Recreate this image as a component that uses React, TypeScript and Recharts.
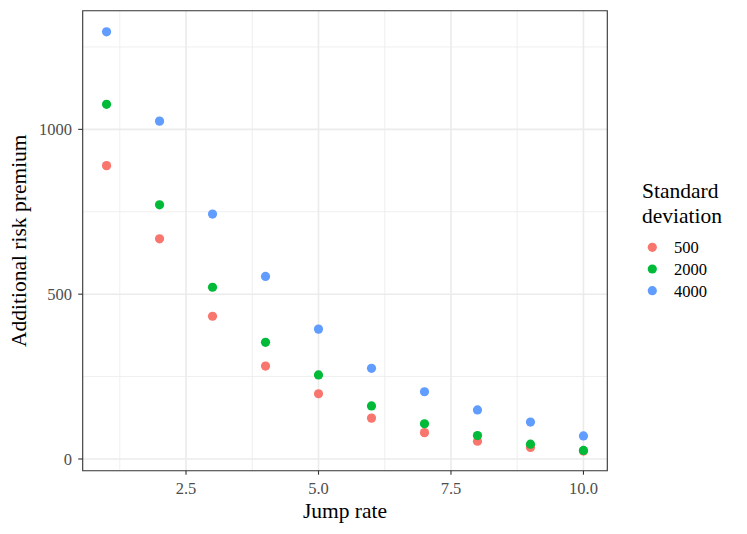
import React from "react";
import {
  ScatterChart,
  Scatter,
  XAxis,
  YAxis,
  CartesianGrid,
  ReferenceArea,
} from "recharts";

// chart values
const jumpRates = [1, 2, 3, 4, 5, 6, 7, 8, 9, 10];
const sd500 = [890, 668, 433, 282, 198, 124, 80, 54, 35, 24];
const sd2000 = [1076, 771, 521, 354, 255, 161, 107, 71, 45, 26];
const sd4000 = [1296, 1025, 743, 554, 394, 275, 204, 149, 112, 70];

const seriesNames = ["500", "2000", "4000"];
const seriesColors = ["#F8766D", "#00BA38", "#619CFF"];

const xTicks = [2.5, 5, 7.5, 10];
const xMinor = [1.25, 3.75, 6.25, 8.75];
const yTicks = [0, 500, 1000];
const yMinor = [250, 750, 1250];

const xDomain = [0.55, 10.45];
const yDomain = [-35.5, 1360];

const FONT = "'Liberation Serif', 'Times New Roman', serif";
const DOT_R = 4.6;

const toPoints = (vals: number[]) => jumpRates.map((x, i) => ({ x, y: vals[i] }));
const series = [sd500, sd2000, sd4000].map(toPoints);

const dot = (color: string) => (p: any) => (
  <circle cx={p.cx} cy={p.cy} r={DOT_R} fill={color} />
);

const XTick = (props: any) => {
  const { x, payload } = props;
  return (
    <text x={x} y={494} textAnchor="middle" fontFamily={FONT} fontSize={16.5} fill="#4D4D4D">
      {Number(payload.value).toFixed(1)}
    </text>
  );
};

const YTick = (props: any) => {
  const { y, payload } = props;
  return (
    <text x={72} y={y + 5.8} textAnchor="end" fontFamily={FONT} fontSize={16.5} fill="#4D4D4D">
      {payload.value}
    </text>
  );
};

export default function App() {
  return (
    <div style={{ position: "absolute", left: 0, top: 0, width: 747, height: 534, background: "#fff" }}>
      <ScatterChart
        width={747}
        height={534}
        margin={{ top: 10.7, right: 139.7, bottom: 0, left: 0 }}
      >
        <CartesianGrid
          stroke="#EBEBEB"
          strokeWidth={0.8}
          verticalValues={xMinor}
          horizontalValues={yMinor}
        />
        <CartesianGrid
          stroke="#EBEBEB"
          strokeWidth={1.6}
          verticalValues={xTicks}
          horizontalValues={yTicks}
        />
        <XAxis
          type="number"
          dataKey="x"
          domain={xDomain}
          ticks={xTicks}
          height={63.3}
          tickSize={4}
          tickLine={{ stroke: "#333333", strokeWidth: 1.1 }}
          axisLine={false}
          tick={<XTick />}
          allowDataOverflow
        />
        <YAxis
          type="number"
          dataKey="y"
          domain={yDomain}
          ticks={yTicks}
          width={82.7}
          tickSize={4.5}
          tickLine={{ stroke: "#333333", strokeWidth: 1.1 }}
          axisLine={false}
          tick={<YTick />}
          allowDataOverflow
        />
        <ReferenceArea
          x1={xDomain[0]}
          x2={xDomain[1]}
          y1={yDomain[0]}
          y2={yDomain[1]}
          fill="none"
          fillOpacity={0}
          stroke="#333333"
          strokeWidth={1.1}
        />
        {series.map((data, i) => (
          <Scatter
            key={seriesNames[i]}
            name={seriesNames[i]}
            data={data}
            fill={seriesColors[i]}
            shape={dot(seriesColors[i])}
            isAnimationActive={false}
          />
        ))}
      </ScatterChart>
      <svg
        width={747}
        height={534}
        style={{ position: "absolute", left: 0, top: 0, pointerEvents: "none" }}
      >
        <text x={345} y={518} textAnchor="middle" fontFamily={FONT} fontSize={21.5} fill="#000">
          Jump rate
        </text>
        <text
          x={26.5}
          y={240.7}
          transform="rotate(-90 26.5 240.7)"
          textAnchor="middle"
          fontFamily={FONT}
          fontSize={21.5}
          fill="#000"
        >
          Additional risk premium
        </text>
        <text x={642} y={198.3} fontFamily={FONT} fontSize={21.5} fill="#000">
          Standard
        </text>
        <text x={642} y={223} fontFamily={FONT} fontSize={21.5} fill="#000">
          deviation
        </text>
        {seriesNames.map((name, i) => (
          <g key={name}>
            <circle cx={652.3} cy={247.3 + i * 21.7} r={DOT_R} fill={seriesColors[i]} />
            <text x={674} y={247.3 + i * 21.7 + 5.8} fontFamily={FONT} fontSize={16.5} fill="#000">
              {name}
            </text>
          </g>
        ))}
      </svg>
    </div>
  );
}
